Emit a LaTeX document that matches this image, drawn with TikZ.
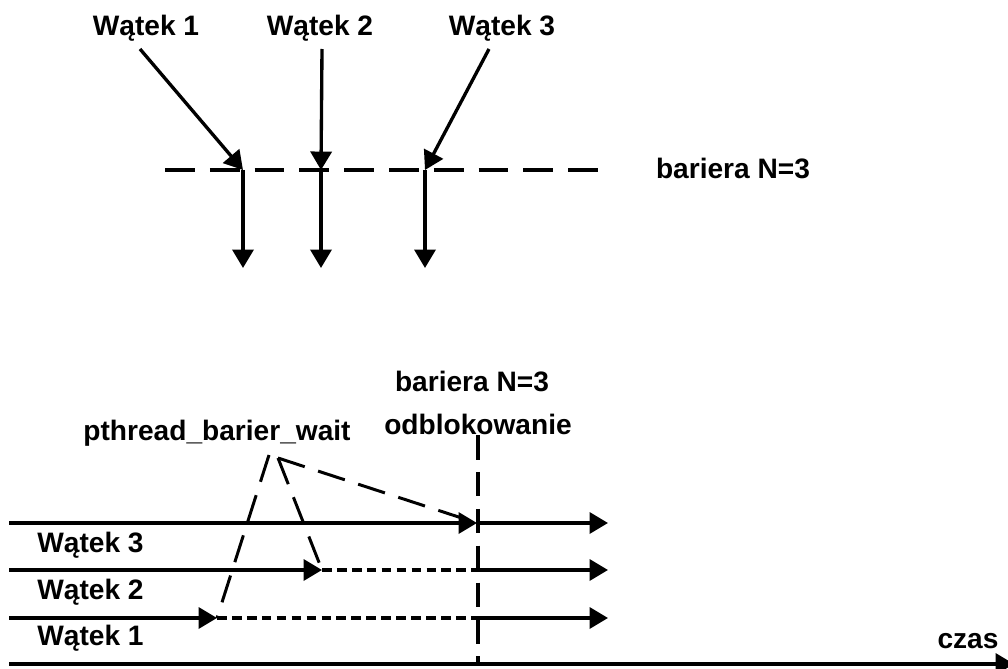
\documentclass[tikz,border=0pt]{standalone}
\usepackage{fontspec}
\setmainfont{Liberation Sans}
\usetikzlibrary{arrows.meta}
\tikzstyle{txt} = [font=\fontsize{16}{18}\selectfont\bfseries, inner sep=0pt]
\tikzstyle{arrow} = [line width=1.9pt,-{Triangle[length=10.5pt,width=12pt]}]
\tikzstyle{barrier} = [line width=1.9pt, dash pattern=on 17pt off 8.5pt]
\tikzstyle{call} = [line width=1.7pt, dash pattern=on 16pt off 8pt]
\tikzstyle{wait} = [line width=1.8pt, dash pattern=on 5.5pt off 3pt]

\begin{document}
\begin{tikzpicture}[x=0.02cm, y=-0.02cm]
            \useasboundingbox (0,0) rectangle (1008,669);

            % watki dochodza do bariery
            \node (w1)  [txt] at (146,28)  {Wątek 1};
            \node (w2)  [txt] at (320,28)  {Wątek 2};
            \node (w3)  [txt] at (502,28)  {Wątek 3};
            \node (bar) [txt] at (733,168) {bariera N=3};

            \coordinate (t1) at (140,49);
            \coordinate (t2) at (322,49);
            \coordinate (t3) at (489,49);
            \coordinate (b1) at (243,170);
            \coordinate (b2) at (321,170);
            \coordinate (b3) at (425,170);
            \coordinate (d1) at (243,268);
            \coordinate (d2) at (321,268);
            \coordinate (d3) at (425,268);
            \coordinate (bl) at (165,170);
            \coordinate (br) at (602,170);

            \draw [barrier] (bl) -- (br);
            \draw [arrow] (t1) -- (b1);
            \draw [arrow] (t2) -- (b2);
            \draw [arrow] (t3) -- (b3);
            \draw [arrow] (b1) -- (d1);
            \draw [arrow] (b2) -- (d2);
            \draw [arrow] (b3) -- (d3);

            % przebieg w czasie
            \node (bar2) [txt] at (472,381) {bariera N=3};
            \node (odb)  [txt] at (478,424) {odblokowanie};
            \node (pbw)  [txt] at (217,433) {pthread\_barier\_wait};
            \node (l3)   [txt, anchor=west] at (37,545) {Wątek 3};
            \node (l2)   [txt, anchor=west] at (37,592) {Wątek 2};
            \node (l1)   [txt, anchor=west] at (37,638) {Wątek 1};
            \node (czas) [txt] at (968,641) {czas};

            \coordinate (s3) at (9,523);
            \coordinate (m3) at (477,523);
            \coordinate (e3) at (608,523);
            \coordinate (s2) at (9,570);
            \coordinate (m2) at (322,570);
            \coordinate (k2) at (478,570);
            \coordinate (e2) at (608,570);
            \coordinate (s1) at (9,618);
            \coordinate (m1) at (217,618);
            \coordinate (k1) at (478,618);
            \coordinate (e1) at (608,618);
            \coordinate (a0) at (9,664);
            \coordinate (a1) at (1014,664);
            \coordinate (v0) at (478,435);
            \coordinate (v1) at (478,664);
            \coordinate (p)  at (269,455);
            \coordinate (q)  at (278,458);

            \draw [barrier, dash pattern=on 14pt off 7pt] (v0) -- (v1);
            \draw [call] (p) -- (m1);
            \draw [call] (q) -- (m2);
            \draw [call] (q) -- (m3);

            \draw [arrow] (s3) -- (m3);
            \draw [arrow] (m3) -- (e3);
            \draw [arrow] (s2) -- (m2);
            \draw [wait]  (m2) -- (k2);
            \draw [arrow] (k2) -- (e2);
            \draw [arrow] (s1) -- (m1);
            \draw [wait]  (m1) -- (k1);
            \draw [arrow] (k1) -- (e1);
            \draw [arrow] (a0) -- (a1);
        \end{tikzpicture}
\end{document}
